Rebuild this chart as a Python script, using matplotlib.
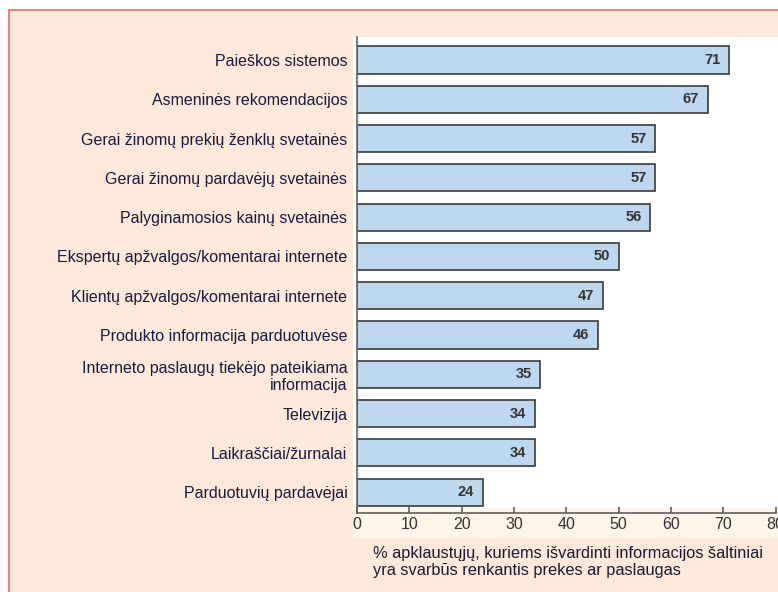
import matplotlib.pyplot as plt
from matplotlib.patches import Rectangle

plt.rcParams['font.family'] = ['Liberation Sans', 'DejaVu Sans']

saltiniai = ["Paieškos sistemos",
             "Asmeninės rekomendacijos",
             "Gerai žinomų prekių ženklų svetainės",
             "Gerai žinomų pardavėjų svetainės",
             "Palyginamosios kainų svetainės",
             "Ekspertų apžvalgos/komentarai internete",
             "Klientų apžvalgos/komentarai internete",
             "Produkto informacija parduotuvėse",
             "Interneto paslaugų tiekėjo pateikiama\ninformacija",
             "Televizija",
             "Laikraščiai/žurnalai",
             "Parduotuvių pardavėjai"]
procentai = [71, 67, 57, 57, 56, 50, 47, 46, 35, 34, 34, 24]
x_ticks = [0, 10, 20, 30, 40, 50, 60, 70, 80]
x_pavad = "% apklaustųjų, kuriems išvardinti informacijos šaltiniai\nyra svarbūs renkantis prekes ar paslaugas"

W, H = 778, 592
fig = plt.figure(figsize=(W / 100, H / 100), dpi=100)
fig.patch.set_facecolor('white')

def fbox(x0, y0, x1, y1, **kw):
    # rectangle in pixel coords (top-left origin), behind the axes
    r = Rectangle((x0 / W, 1 - y1 / H), (x1 - x0) / W, (y1 - y0) / H,
                  transform=fig.transFigure, zorder=-5, **kw)
    fig.patches.append(r)

# outer frame
fbox(9, 10, 790, 600, facecolor='#fde9da', edgecolor='#e0877a', linewidth=1.5)
fbox(353, 37, 778, 508, facecolor='white', edgecolor='none')
fbox(353, 508, 778, 538, facecolor='#fef5e8', edgecolor='none')

ax = fig.add_axes([357 / W, 1 - 513 / H, (775.6 - 357) / W, (513 - 37) / H])
ax.set_facecolor('none')

pos = list(range(len(saltiniai)))
bars = ax.barh(pos, procentai, height=0.69, color='#bdd7ee',
               edgecolor='#3a3a3a', linewidth=1.2)
for y, v in zip(pos, procentai):
    ax.text(v - 1.6, y, str(v), ha='right', va='center', fontsize=10.5,
            fontweight='bold', color='#333333')

ax.set_xlim(0, 80)
ax.set_ylim(11.53, -0.585)
ax.set_yticks(pos)
ax.set_yticklabels(saltiniai, fontsize=11.5, color='#1a1a40', linespacing=1.15)
ax.tick_params(axis='y', length=0, pad=7)
ax.set_xticks(x_ticks)
ax.set_xticklabels([str(t) for t in x_ticks], fontsize=11.5, color='#333333')
ax.tick_params(axis='x', direction='in', length=4, width=1.2,
               color='#606060', pad=3)
for s in ['top', 'right']:
    ax.spines[s].set_visible(False)
for s in ['left', 'bottom']:
    ax.spines[s].set_color('#606060')
    ax.spines[s].set_linewidth(1.2)

fig.text(373 / W, 1 - 546 / H, x_pavad, ha='left', va='top', fontsize=11.8,
         color='#1a1a30', linespacing=1.2)

fig.savefig('out.png', dpi=100)
